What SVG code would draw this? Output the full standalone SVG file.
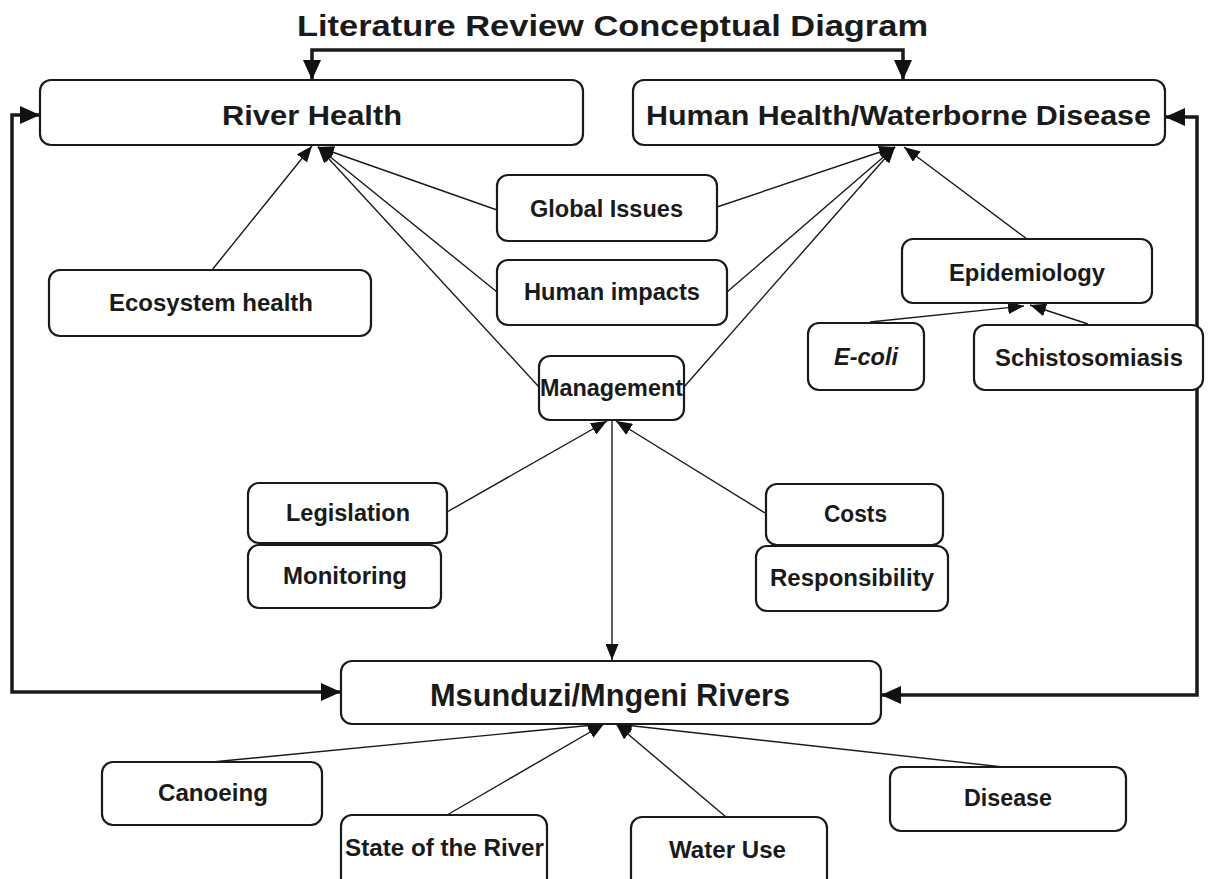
<svg xmlns="http://www.w3.org/2000/svg" width="1209" height="879" viewBox="0 0 1209 879">
<defs>
<marker id="arr" viewBox="0 0 16 13" refX="16" refY="6.5" markerWidth="16" markerHeight="13" markerUnits="userSpaceOnUse" orient="auto"><path d="M0,0 L16,6.5 L0,13 z" fill="#111"/></marker>
<marker id="arrT" viewBox="0 0 20 18" refX="20" refY="9" markerWidth="20" markerHeight="18" markerUnits="userSpaceOnUse" orient="auto"><path d="M0,0 L20,9 L0,18 z" fill="#111"/></marker>
<style>
.box{fill:#fff;stroke:#1a1a1a;stroke-width:2.2}
.t{font-family:"Liberation Sans",Arial,sans-serif;font-weight:bold;fill:#1a1a1a;text-anchor:start}
.s{font-size:23px}
.h{font-size:27px}
.thin{fill:none;stroke:#1a1a1a;stroke-width:1.4;marker-end:url(#arr)}
.thick{fill:none;stroke:#1a1a1a;stroke-width:3.5;marker-end:url(#arrT)}
</style>
</defs>
<rect width="1209" height="879" fill="#fff"/>
<text class="t" x="297" y="36" font-size="29" textLength="631" lengthAdjust="spacingAndGlyphs">Literature Review Conceptual Diagram</text>
<g id="connectors">
<path class="thick" d="M612,50 H312 V80"/>
<path class="thick" d="M612,50 H903 V80"/>
<path class="thick" d="M12,400 V115 H40"/>
<path class="thick" d="M12,400 V692 H341"/>
<path class="thick" d="M1197,400 V117 H1165"/>
<path class="thick" d="M1197,400 V695 H881"/>
<path class="thin" d="M212,270 L312,146"/>
<path class="thin" d="M497,210 L318,147"/>
<path class="thin" d="M497,292 L318,147"/>
<path class="thin" d="M539,387 L318,147"/>
<path class="thin" d="M717,207 L895,147"/>
<path class="thin" d="M727,292 L895,147"/>
<path class="thin" d="M684,387 L895,147"/>
<path class="thin" d="M1027,239 L904,147"/>
<path class="thin" d="M870,322 L1024,306"/>
<path class="thin" d="M1088,324 L1030,305"/>
<path class="thin" d="M447,512 L607,421"/>
<path class="thin" d="M765,513 L616,421"/>
<path class="thin" d="M612,420 L612,660"/>
<path class="thin" d="M212,762 L604,724"/>
<path class="thin" d="M447,815 L604,724"/>
<path class="thin" d="M726,817 L616,724"/>
<path class="thin" d="M1003,767 L616,724"/>
</g>
<g id="river-health"><rect class="box" x="40" y="80" width="543" height="65" rx="11"/><text class="t h" x="222" y="125" textLength="180" lengthAdjust="spacingAndGlyphs">River Health</text></g>
<g id="human-health"><rect class="box" x="633" y="80" width="532" height="65" rx="11"/><text class="t h" x="646" y="125" textLength="505" lengthAdjust="spacingAndGlyphs">Human Health/Waterborne Disease</text></g>
<g id="global-issues"><rect class="box" x="497" y="175" width="220" height="66" rx="11"/><text class="t s" x="530" y="217" textLength="153" lengthAdjust="spacingAndGlyphs">Global Issues</text></g>
<g id="human-impacts"><rect class="box" x="497" y="260" width="230" height="65" rx="11"/><text class="t s" x="524" y="300" textLength="176" lengthAdjust="spacingAndGlyphs">Human impacts</text></g>
<g id="management"><rect class="box" x="539" y="356" width="145" height="64" rx="11"/><text class="t s" x="540" y="396" textLength="143" lengthAdjust="spacingAndGlyphs">Management</text></g>
<g id="ecosystem-health"><rect class="box" x="49" y="270" width="322" height="66" rx="11"/><text class="t s" x="109" y="311" textLength="204" lengthAdjust="spacingAndGlyphs">Ecosystem health</text></g>
<g id="epidemiology"><rect class="box" x="902" y="239" width="250" height="64" rx="11"/><text class="t s" x="949" y="281" textLength="156" lengthAdjust="spacingAndGlyphs">Epidemiology</text></g>
<g id="e-coli"><rect class="box" x="808" y="323" width="116" height="67" rx="11"/><text class="t s" x="834" y="365" font-style="italic" textLength="64" lengthAdjust="spacingAndGlyphs">E-coli</text></g>
<g id="schistosomiasis"><rect class="box" x="974" y="325" width="229" height="65" rx="11"/><text class="t s" x="995" y="366" textLength="188" lengthAdjust="spacingAndGlyphs">Schistosomiasis</text></g>
<g id="legislation"><rect class="box" x="248" y="483" width="199" height="60" rx="11"/><text class="t s" x="286" y="521" textLength="124" lengthAdjust="spacingAndGlyphs">Legislation</text></g>
<g id="monitoring"><rect class="box" x="248" y="545" width="193" height="63" rx="11"/><text class="t s" x="283" y="584" textLength="124" lengthAdjust="spacingAndGlyphs">Monitoring</text></g>
<g id="costs"><rect class="box" x="766" y="484" width="177" height="61" rx="11"/><text class="t s" x="824" y="522" textLength="63" lengthAdjust="spacingAndGlyphs">Costs</text></g>
<g id="responsibility"><rect class="box" x="756" y="546" width="192" height="65" rx="11"/><text class="t s" x="770" y="586" textLength="164" lengthAdjust="spacingAndGlyphs">Responsibility</text></g>
<g id="msunduzi"><rect class="box" x="341" y="661" width="540" height="63" rx="11"/><text class="t" font-size="31" x="430" y="706" textLength="360" lengthAdjust="spacingAndGlyphs">Msunduzi/Mngeni Rivers</text></g>
<g id="canoeing"><rect class="box" x="102" y="762" width="220" height="63" rx="11"/><text class="t s" x="158" y="801" textLength="110" lengthAdjust="spacingAndGlyphs">Canoeing</text></g>
<g id="state-of-river"><rect class="box" x="341" y="815" width="206" height="75" rx="11"/><text class="t s" x="345" y="856" textLength="199" lengthAdjust="spacingAndGlyphs">State of the River</text></g>
<g id="water-use"><rect class="box" x="631" y="817" width="196" height="73" rx="11"/><text class="t s" x="669" y="858" textLength="117" lengthAdjust="spacingAndGlyphs">Water Use</text></g>
<g id="disease"><rect class="box" x="890" y="767" width="236" height="64" rx="11"/><text class="t s" x="964" y="806" textLength="88" lengthAdjust="spacingAndGlyphs">Disease</text></g>
</svg>
